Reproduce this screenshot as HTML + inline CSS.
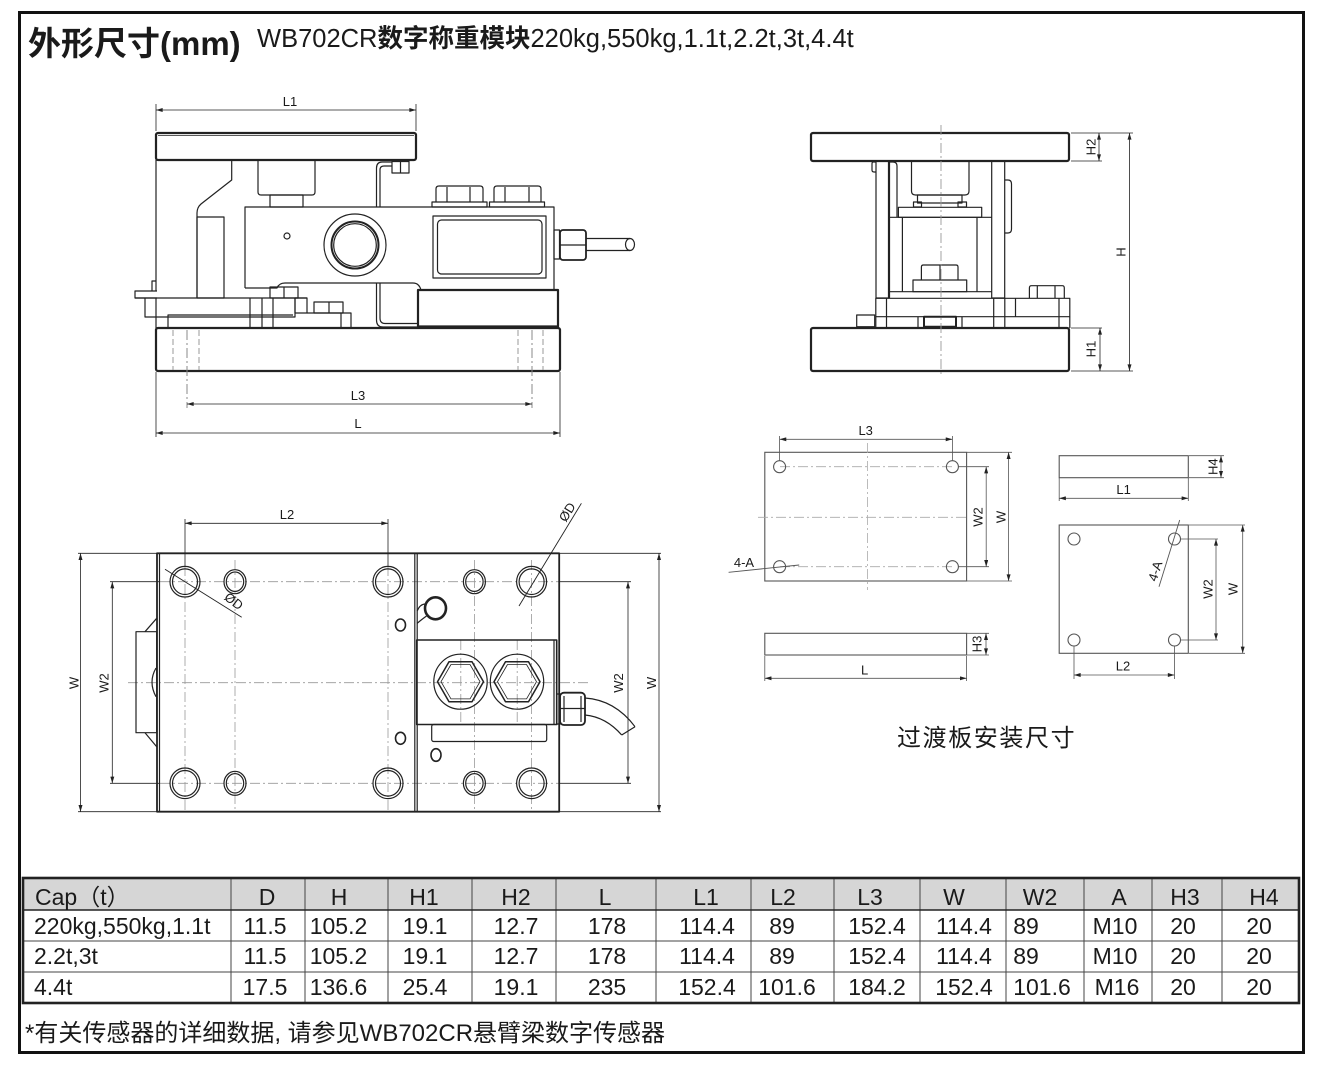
<!DOCTYPE html>
<html><head><meta charset="utf-8">
<style>
html,body{margin:0;padding:0;background:#fff;}
svg{display:block;}
text{font-family:"Liberation Sans","Noto Sans CJK SC",sans-serif;fill:#1a1a1a;stroke:none;}
</style></head><body>
<svg width="1322" height="1077" viewBox="0 0 1322 1077" xmlns="http://www.w3.org/2000/svg">
<defs>
<marker id="a" viewBox="0 0 10 6" refX="10" refY="3" markerWidth="7" markerHeight="4" orient="auto-start-reverse" markerUnits="userSpaceOnUse"><path d="M0,0 L10,3 L0,6z" fill="#222"/></marker>
</defs>
<rect width="1322" height="1077" fill="#fff"/>
<rect x="19.5" y="12.5" width="1284" height="1040" fill="none" stroke="#111" stroke-width="3"/>

<text x="28" y="55" font-size="33" font-weight="bold">外形尺寸(mm)</text>
<text x="257" y="47" font-size="25.5">WB702CR<tspan font-weight="bold">数字称重模块</tspan>220kg,550kg,1.1t,2.2t,3t,4.4t</text>

<!-- ================= FRONT VIEW ================= -->
<g fill="none" stroke="#222" stroke-width="1.2" stroke-linejoin="round">
<line x1="156" y1="104" x2="156" y2="131" stroke-width="0.8"/>
<line x1="416" y1="104" x2="416" y2="131" stroke-width="0.8"/>
<line x1="156" y1="110" x2="416" y2="110" stroke-width="0.8" marker-start="url(#a)" marker-end="url(#a)"/>
<rect x="156" y="133" width="260" height="27" rx="2" stroke-width="2.2"/>
<line x1="158" y1="135.5" x2="414" y2="135.5" stroke-width="0.7"/>
<path d="M156,160 V291 M156,298 V328"/>
<path d="M157,291 H135 V298 H157 M152,291 V281 H156"/>
<path d="M135,298 H307 M145,298 V317 H295 V298"/>
<path d="M168,328 V315 H293"/>
<path d="M250,298 V328 M262,298 V328 M273,298 V328"/>
<rect x="270" y="287" width="28" height="11"/><line x1="284" y1="287" x2="284" y2="298"/>
<rect x="295" y="298" width="12" height="15"/>
<rect x="314" y="302" width="29" height="11"/><line x1="329" y1="302" x2="329" y2="313"/>
<path d="M307,313 H351 V328 M341,313 V328"/>
<path d="M231.7,160 V180 L201,204 Q197,207.5 197,213 V298"/>
<rect x="197" y="217" width="27" height="81"/>
<path d="M258,160 V192 Q258,195 261,195 H312 Q315,195 315,192 V160"/>
<rect x="270" y="195" width="33" height="12"/>
<path d="M245,288 V207 H554 V290"/>
<path d="M245,288 H277 Q279,283 285,283 H413 Q419,283 421,290"/>
<circle cx="355" cy="245" r="31"/>
<circle cx="355" cy="245" r="23.5" stroke-width="2"/>
<circle cx="355" cy="245" r="21.3"/>
<circle cx="287" cy="236" r="3"/>
<rect x="433" y="216" width="113" height="62"/>
<rect x="437.5" y="220" width="104.5" height="54" rx="4"/>
<path d="M436,202 V189 Q436,186 439,186 H480 Q483,186 483,189 V202 M447,187 V202 M470,187 V202"/>
<rect x="432" y="202" width="55" height="5"/>
<path d="M494,202 V189 Q494,186 497,186 H538 Q541,186 541,189 V202 M505,187 V202 M529,187 V202"/>
<rect x="489.5" y="202" width="55" height="5"/>
<rect x="554" y="230" width="5.5" height="29"/>
<rect x="560" y="230" width="26" height="30" rx="3" stroke-width="1.8"/>
<line x1="560" y1="245" x2="586" y2="245"/>
<path d="M586,238.5 H630 M586,250.5 H630"/>
<ellipse cx="630" cy="244.5" rx="4.5" ry="6"/>
<path d="M376.5,207 V168 Q376.5,162 382.5,162 H392"/>
<path d="M380,207 V170 Q380,166 384,166 H392"/>
<path d="M376.5,283 V320 Q376.5,327 383,327 H418 M380,283 V318 Q380,323.5 385,323.5 H418"/>
<rect x="392" y="161.5" width="17" height="11.5"/><line x1="400.5" y1="161.5" x2="400.5" y2="173"/>
<rect x="418" y="290" width="140" height="36.5" stroke-width="2.2"/>
<rect x="156" y="328" width="404" height="43" rx="2" stroke-width="2.2"/>
<path d="M173,330 V370 M199,330 V370 M518,330 V370 M543,330 V370" stroke="#999" stroke-width="1" stroke-dasharray="6,3"/>
<path d="M187,330 V408 M532,330 V408" stroke="#888" stroke-width="1" stroke-dasharray="10,3,2,3"/>
<line x1="187" y1="404" x2="532" y2="404" stroke-width="0.8" marker-start="url(#a)" marker-end="url(#a)"/>
<line x1="156" y1="372" x2="156" y2="437" stroke-width="0.8"/>
<line x1="560" y1="372" x2="560" y2="437" stroke-width="0.8"/>
<line x1="156" y1="433" x2="560" y2="433" stroke-width="0.8" marker-start="url(#a)" marker-end="url(#a)"/>
</g>
<g font-size="13" text-anchor="middle">
<text x="290" y="106">L1</text>
<text x="358" y="400">L3</text>
<text x="358" y="428">L</text>
</g>

<!-- ================= SIDE VIEW ================= -->
<g fill="none" stroke="#222" stroke-width="1.2" stroke-linejoin="round">
<rect x="811" y="133" width="258" height="28" rx="2" stroke-width="2.2"/>
<rect x="811" y="328" width="258" height="43" rx="2" stroke-width="2.2"/>
<rect x="876" y="161" width="12.5" height="137"/>
<path d="M889.5,298 V162 H893 Q897,162 897,166 V217"/>
<path d="M876,162 H873 Q872,162 872,164 V170 Q872,172 874,172 H876"/>
<rect x="991.7" y="161" width="13" height="137"/>
<path d="M1004.7,180 H1008 Q1011.5,180 1011.5,184 V229 Q1011.5,233 1008,233 H1004.7"/>
<path d="M911.5,161 V191 Q911.5,195 915.5,195 H965 Q969,195 969,191 V161"/>
<rect x="917.5" y="195" width="44.5" height="8"/>
<rect x="913.5" y="202" width="8" height="5"/><rect x="958" y="202" width="8.5" height="5"/>
<rect x="898.4" y="207.3" width="83.3" height="10"/>
<path d="M889.5,217.3 H991.7 M902.4,217.3 V291.7 M977,217.3 V291.7 M889.5,291.7 H991.7"/>
<path d="M921.4,280 V267 Q921.4,265 923.4,265 H956 Q958,265 958,267 V280 M940,265 V280"/>
<rect x="913" y="280" width="53.7" height="11.7"/>
<rect x="875.8" y="298.3" width="194" height="18.4"/>
<path d="M886.5,298.3 V328 M993.7,298.3 V328 M1004.8,298.3 V328 M1015.5,298.3 V316.7 M1059,298.3 V328"/>
<path d="M1029.4,298.3 V288 Q1029.4,285.7 1031.4,285.7 H1062.3 Q1064.3,285.7 1064.3,288 V298.3 M1037.3,285.7 V298.3 M1055,285.7 V298.3"/>
<path d="M875.8,316.7 V328 M1069.8,316.7 V328 M918,316.7 V328 M962,316.7 V328"/>
<rect x="924" y="316.7" width="32" height="10" stroke-width="2"/>
<rect x="856.7" y="315" width="18" height="11.7"/>
<line x1="941" y1="125" x2="941" y2="377" stroke="#999" stroke-width="0.9" stroke-dasharray="10,3,2,3"/>
<path d="M1071,133 H1133 M1071,161 H1102 M1071,328 H1102 M1071,371 H1133" stroke-width="0.8"/>
<line x1="1099" y1="133" x2="1099" y2="161" stroke-width="0.8" marker-start="url(#a)" marker-end="url(#a)"/>
<line x1="1100" y1="328" x2="1100" y2="371" stroke-width="0.8" marker-start="url(#a)" marker-end="url(#a)"/>
<line x1="1129.5" y1="133" x2="1129.5" y2="371" stroke-width="0.8" marker-start="url(#a)" marker-end="url(#a)"/>
</g>
<g font-size="13" text-anchor="middle">
<text transform="translate(1091,147) rotate(-90)" dy="4.7">H2</text>
<text transform="translate(1091,349) rotate(-90)" dy="4.7">H1</text>
<text transform="translate(1121,252) rotate(-90)" dy="4.7">H</text>
</g>

<!-- ================= TOP VIEW ================= -->
<g fill="none" stroke="#222" stroke-width="1.2" stroke-linejoin="round">
<path d="M78,553.3 H157 M78,811.7 H157 M110,581.7 H160 M110,783.3 H160" stroke-width="0.8"/>
<line x1="80.5" y1="553.3" x2="80.5" y2="811.7" stroke-width="0.8" marker-start="url(#a)" marker-end="url(#a)"/>
<line x1="112.3" y1="581.7" x2="112.3" y2="783.3" stroke-width="0.8" marker-start="url(#a)" marker-end="url(#a)"/>
<path d="M560,553.3 H661 M560,811.7 H661 M560,581.7 H631 M560,783.3 H631" stroke-width="0.8"/>
<line x1="659" y1="553.3" x2="659" y2="811.7" stroke-width="0.8" marker-start="url(#a)" marker-end="url(#a)"/>
<line x1="628" y1="581.7" x2="628" y2="783.3" stroke-width="0.8" marker-start="url(#a)" marker-end="url(#a)"/>
<path d="M185,519 V566 M388,519 V566" stroke-width="0.8"/>
<line x1="185" y1="523.3" x2="388" y2="523.3" stroke-width="0.8" marker-start="url(#a)" marker-end="url(#a)"/>
<g stroke="#999" stroke-width="0.8" stroke-dasharray="10,3,2,3">
<path d="M160,581.7 H560 M160,783.3 H560 M128,682.7 H591"/>
<path d="M185,566 V812 M388,566 V812 M235,560 V810 M474.4,560 V810 M531.6,560 V810 M460.8,640 V725 M517.2,640 V725"/>
</g>
<rect x="157" y="553.3" width="402.2" height="258.4" stroke-width="1.8"/>
<line x1="159.5" y1="553.3" x2="159.5" y2="811.7"/>
<path d="M414.8,553.3 V811.7 M417.2,553.3 V811.7"/>
<rect x="136" y="631.7" width="20.7" height="101"/>
<path d="M145,631.7 L156.7,618.3 M145,732.7 L156.7,746.7"/>
<path d="M156,668 Q148,682 156,696.7"/>
<g>
<ellipse cx="185" cy="581.7" rx="15" ry="15.3"/><ellipse cx="185" cy="581.7" rx="12.5" ry="12.8"/>
<ellipse cx="388" cy="581.7" rx="15" ry="15.3"/><ellipse cx="388" cy="581.7" rx="12.5" ry="12.8"/>
<ellipse cx="185" cy="783.3" rx="15" ry="15.3"/><ellipse cx="185" cy="783.3" rx="12.5" ry="12.8"/>
<ellipse cx="388" cy="783.3" rx="15" ry="15.3"/><ellipse cx="388" cy="783.3" rx="12.5" ry="12.8"/>
<ellipse cx="531.6" cy="581.7" rx="15" ry="15.3"/><ellipse cx="531.6" cy="581.7" rx="12.5" ry="12.8"/>
<ellipse cx="531.6" cy="783.3" rx="15" ry="15.3"/><ellipse cx="531.6" cy="783.3" rx="12.5" ry="12.8"/>
<ellipse cx="235" cy="581.7" rx="11" ry="12"/><ellipse cx="235" cy="581.7" rx="8.7" ry="9.7"/>
<ellipse cx="235" cy="783.3" rx="11" ry="12"/><ellipse cx="235" cy="783.3" rx="8.7" ry="9.7"/>
<ellipse cx="474.4" cy="581.7" rx="11" ry="12"/><ellipse cx="474.4" cy="581.7" rx="8.7" ry="9.7"/>
<ellipse cx="474.4" cy="783.3" rx="11" ry="12"/><ellipse cx="474.4" cy="783.3" rx="8.7" ry="9.7"/>
</g>
<line x1="165" y1="569.3" x2="241.7" y2="617.3" stroke-width="0.9"/>
<line x1="581.4" y1="503.3" x2="519" y2="606" stroke-width="0.9"/>
<ellipse cx="400.5" cy="625" rx="5" ry="6" stroke-width="1.6"/>
<ellipse cx="400.5" cy="738.3" rx="5" ry="6" stroke-width="1.6"/>
<ellipse cx="436" cy="755" rx="5" ry="6.3" stroke-width="1.6"/>
<ellipse cx="435.5" cy="608.3" rx="10.5" ry="11" stroke-width="2.6"/>
<path d="M417.2,611 Q420,604 425.5,604 M417.2,623.3 Q421,620 426.5,616"/>
<rect x="416.7" y="640" width="140" height="84.5" stroke-width="1.6"/>
<line x1="554" y1="640" x2="554" y2="724.5"/>
<rect x="431.7" y="724.5" width="115" height="17" rx="2"/>
<ellipse cx="460.5" cy="681.7" rx="26.7" ry="27.5"/>
<ellipse cx="517" cy="681.7" rx="26.7" ry="27.5"/>
<path d="M437.5,681.7 L449,661.7 H472 L483.5,681.7 L472,701.7 H449 Z" stroke-width="1.5"/>
<path d="M441,681.7 L451,664.5 H470 L480,681.7 L470,698.9 H451 Z" stroke-width="0.8"/>
<path d="M494,681.7 L505.5,661.7 H528.5 L540,681.7 L528.5,701.7 H505.5 Z" stroke-width="1.5"/>
<path d="M497.5,681.7 L507.5,664.5 H526.5 L536.5,681.7 L526.5,698.9 H507.5 Z" stroke-width="0.8"/>
<rect x="556.7" y="694" width="3.5" height="30"/>
<rect x="560" y="692.7" width="25" height="32.3" rx="4" stroke-width="1.8"/>
<path d="M564,696 V722 M581,696 V722 M560,708.5 H585"/>
<path d="M585,698 Q615,700 635,726.7 M585,715 Q606,717 621.7,735 M635,726.7 L621.7,735"/>
</g>
<g font-size="13" text-anchor="middle">
<text x="287" y="519">L2</text>
<text transform="translate(74,683) rotate(-90)" dy="4.7">W</text>
<text transform="translate(104,683) rotate(-90)" dy="4.7">W2</text>
<text transform="translate(618.4,683) rotate(-90)" dy="4.7">W2</text>
<text transform="translate(651.4,683) rotate(-90)" dy="4.7">W</text>
<text transform="translate(234,601) rotate(38)" dy="4.7">ØD</text>
<text transform="translate(567,512) rotate(-58)" dy="4.7">ØD</text>
</g>

<!-- ================= TRANSITION PLATES ================= -->
<g fill="none" stroke="#555" stroke-width="1.1">
<rect x="764.8" y="452.3" width="201.8" height="128.7"/>
<g stroke="#aaa" stroke-width="0.8" stroke-dasharray="10,3,2,3">
<path d="M780,466.7 H952 M780,566.7 H952 M867.4,443 V590 M758,517.3 H966"/>
</g>
<circle cx="779.6" cy="466.7" r="6"/><circle cx="952.4" cy="466.7" r="6"/>
<circle cx="779.6" cy="566.7" r="6"/><circle cx="952.4" cy="566.7" r="6"/>
<path d="M779.6,436 V460.7 M952.4,436 V460.7" stroke-width="0.8"/>
<line x1="779.6" y1="439.3" x2="952.4" y2="439.3" stroke-width="0.8" marker-start="url(#a)" marker-end="url(#a)"/>
<path d="M958,466.7 H989 M958,566.7 H989 M967,452.3 H1012 M967,581 H1012" stroke-width="0.8"/>
<line x1="986.2" y1="466.7" x2="986.2" y2="566.7" stroke-width="0.8" marker-start="url(#a)" marker-end="url(#a)"/>
<line x1="1008.6" y1="452.3" x2="1008.6" y2="581" stroke-width="0.8" marker-start="url(#a)" marker-end="url(#a)"/>
<line x1="728.6" y1="572.3" x2="799.2" y2="565" stroke-width="0.9"/>

<rect x="764.8" y="633.3" width="201.8" height="21.7"/>
<path d="M967,633.3 H989 M967,655 H989 M764.8,656 V681 M966.6,656 V681" stroke-width="0.8"/>
<line x1="986" y1="633.3" x2="986" y2="655" stroke-width="0.8" marker-start="url(#a)" marker-end="url(#a)"/>
<line x1="764.8" y1="678.3" x2="966.6" y2="678.3" stroke-width="0.8" marker-start="url(#a)" marker-end="url(#a)"/>

<rect x="1059.2" y="455.7" width="129.1" height="22"/>
<path d="M1189,455.7 H1224 M1189,477.7 H1224 M1059.2,478 V501 M1188.3,478 V501" stroke-width="0.8"/>
<line x1="1221" y1="455.7" x2="1221" y2="477.7" stroke-width="0.8" marker-start="url(#a)" marker-end="url(#a)"/>
<line x1="1059.2" y1="498.3" x2="1188.3" y2="498.3" stroke-width="0.8" marker-start="url(#a)" marker-end="url(#a)"/>

<rect x="1059.2" y="525" width="129.1" height="128.3"/>
<circle cx="1074" cy="539" r="6"/><circle cx="1174.5" cy="539" r="6"/>
<circle cx="1074" cy="640" r="6"/><circle cx="1174.5" cy="640" r="6"/>
<path d="M1180.5,539 H1218 M1180.5,640 H1218 M1189,525 H1245 M1189,653.3 H1245 M1074,646 V679 M1174.5,646 V679" stroke-width="0.8"/>
<line x1="1216" y1="539" x2="1216" y2="640" stroke-width="0.8" marker-start="url(#a)" marker-end="url(#a)"/>
<line x1="1242.7" y1="525" x2="1242.7" y2="653.3" stroke-width="0.8" marker-start="url(#a)" marker-end="url(#a)"/>
<line x1="1074" y1="675" x2="1174.5" y2="675" stroke-width="0.8" marker-start="url(#a)" marker-end="url(#a)"/>
<line x1="1179.7" y1="520" x2="1159" y2="586.7" stroke-width="0.9"/>
</g>
<g font-size="13" text-anchor="middle">
<text x="865.7" y="435">L3</text>
<text transform="translate(977.6,517) rotate(-90)" dy="4.7">W2</text>
<text transform="translate(1000.6,517) rotate(-90)" dy="4.7">W</text>
<text x="744" y="567">4-A</text>
<text transform="translate(977,644) rotate(-90)" dy="4.7">H3</text>
<text x="864.6" y="674.5">L</text>
<text transform="translate(1213,466.7) rotate(-90)" dy="4.7">H4</text>
<text x="1123.6" y="494">L1</text>
<text transform="translate(1208,589) rotate(-90)" dy="4.7">W2</text>
<text transform="translate(1233,589) rotate(-90)" dy="4.7">W</text>
<text x="1123" y="670.5">L2</text>
<text transform="translate(1155,571) rotate(-72)" dy="4.7">4-A</text>
</g>
<text x="897" y="746" font-size="24" letter-spacing="1.6">过渡板安装尺寸</text>

<!-- ================= TABLE ================= -->
<rect x="23" y="878" width="1276" height="32" fill="#d6d6d6"/>
<g stroke="#444" stroke-width="1" fill="none">
<path d="M23,941 H1299 M23,972 H1299"/>
<path d="M231,878 V1003 M305,878 V1003 M388,878 V1003 M472,878 V1003 M556,878 V1003 M656,878 V1003 M751,878 V1003 M834,878 V1003 M920,878 V1003 M1006,878 V1003 M1084,878 V1003 M1152,878 V1003 M1222,878 V1003"/>
<line x1="23" y1="910" x2="1299" y2="910" stroke="#222" stroke-width="1.6"/>
<rect x="23" y="878" width="1276" height="125" stroke="#222" stroke-width="2.6"/>
</g>
<g font-size="23" text-anchor="middle">
<text x="35" y="905" text-anchor="start">Cap（t）</text>
<text x="267" y="905">D</text><text x="339" y="905">H</text><text x="424" y="905">H1</text><text x="516" y="905">H2</text>
<text x="605" y="905">L</text><text x="706" y="905">L1</text><text x="783" y="905">L2</text><text x="870" y="905">L3</text>
<text x="954" y="905">W</text><text x="1040" y="905">W2</text><text x="1119" y="905">A</text><text x="1185" y="905">H3</text><text x="1264" y="905">H4</text>

<text x="34" y="934" text-anchor="start">220kg,550kg,1.1t</text>
<text x="265" y="934">11.5</text><text x="338.5" y="934">105.2</text><text x="425" y="934">19.1</text><text x="516" y="934">12.7</text>
<text x="607" y="934">178</text><text x="707" y="934">114.4</text><text x="782" y="934">89</text><text x="877" y="934">152.4</text>
<text x="964" y="934">114.4</text><text x="1026" y="934">89</text><text x="1115" y="934">M10</text><text x="1183" y="934">20</text><text x="1259" y="934">20</text>

<text x="34" y="964" text-anchor="start">2.2t,3t</text>
<text x="265" y="964">11.5</text><text x="338.5" y="964">105.2</text><text x="425" y="964">19.1</text><text x="516" y="964">12.7</text>
<text x="607" y="964">178</text><text x="707" y="964">114.4</text><text x="782" y="964">89</text><text x="877" y="964">152.4</text>
<text x="964" y="964">114.4</text><text x="1026" y="964">89</text><text x="1115" y="964">M10</text><text x="1183" y="964">20</text><text x="1259" y="964">20</text>

<text x="34" y="995" text-anchor="start">4.4t</text>
<text x="265" y="995">17.5</text><text x="338.5" y="995">136.6</text><text x="425" y="995">25.4</text><text x="516" y="995">19.1</text>
<text x="607" y="995">235</text><text x="707" y="995">152.4</text><text x="787" y="995">101.6</text><text x="877" y="995">184.2</text>
<text x="964" y="995">152.4</text><text x="1042" y="995">101.6</text><text x="1117" y="995">M16</text><text x="1183" y="995">20</text><text x="1259" y="995">20</text>
</g>

<text x="25" y="1041" font-size="24">*有关传感器的详细数据, 请参见WB702CR悬臂梁数字传感器</text>
</svg>
</body></html>
